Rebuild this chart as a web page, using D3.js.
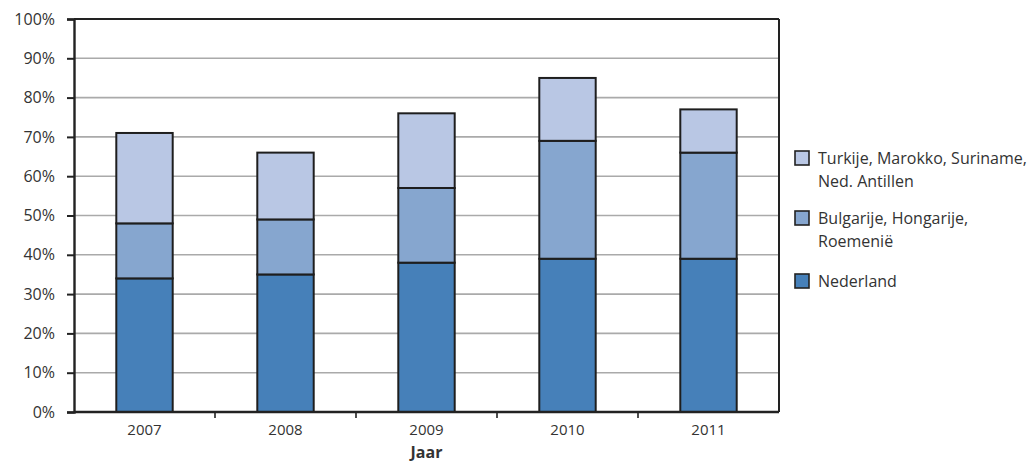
<!DOCTYPE html>
<html>
<head>
<meta charset="utf-8">
<script src="https://cdn.jsdelivr.net/npm/d3@7"></script>
<style>
  body { margin: 0; background: #fff; }
  text { font-family: "Open Sans", "Noto Sans", sans-serif; fill: #333; }
</style>
</head>
<body>
<svg id="chart" width="1029" height="463"></svg>
<script>
// data (share in %)
var years = ["2007", "2008", "2009", "2010", "2011"]
var nederland = [34, 35, 38, 39, 39]
var bulgarije = [14, 14, 19, 30, 27]
var turkije = [23, 17, 19, 16, 11]
var yTicks = [0, 10, 20, 30, 40, 50, 60, 70, 80, 90, 100]
var colors = ["#4680b9", "#86a6cf", "#b9c7e4"]

var svg = d3.select("#chart")
// note: "top" clashes with window.top, so plot edges get own names
var plotL = 74, plotR = 779, plotT = 19, plotB = 412

var x = d3.scaleBand().domain(years).range([plotL, plotR]).paddingInner(0.6).paddingOuter(0.3)
var xb = d3.scaleBand().domain(years).range([plotL, plotR])
var y = d3.scaleLinear().domain([0, 100]).range([plotB, plotT])

// gridlines
svg.selectAll(".grid").data(yTicks.slice(1, -1)).enter().append("line")
  .attr("x1", plotL).attr("x2", plotR)
  .attr("y1", d => y(d)).attr("y2", d => y(d))
  .attr("stroke", "#aaa").attr("stroke-width", 1.6)

// stacked bars
var rows = years.map((yr, i) => ({year: yr, nl: nederland[i], bg: bulgarije[i], tk: turkije[i]}))
var stack = d3.stack().keys(["nl", "bg", "tk"])(rows)

stack.forEach(function(layer, li) {
  svg.selectAll(".bar" + li).data(layer).enter().append("rect")
    .attr("x", d => x(d.data.year))
    .attr("width", x.bandwidth())
    .attr("y", d => y(d[1]))
    .attr("height", d => y(d[0]) - y(d[1]))
    .attr("fill", colors[li])
    .attr("stroke", "#1e1e1e").attr("stroke-width", 2)
})

// frame: top and right border
svg.append("line").attr("x1", plotL).attr("x2", plotR).attr("y1", y(100)).attr("y2", y(100))
  .attr("stroke", "#222").attr("stroke-width", 2)
svg.append("line").attr("x1", plotR).attr("x2", plotR).attr("y1", y(100)).attr("y2", plotB)
  .attr("stroke", "#222").attr("stroke-width", 2)

// y axis
var yAxis = svg.append("g").attr("transform", "translate(" + plotL + ",0)")
  .call(d3.axisLeft(y).tickValues(yTicks).tickFormat(d => d + "%").tickSize(7).tickPadding(12))
yAxis.select(".domain").attr("stroke", "#222").attr("stroke-width", 2.4)
yAxis.selectAll(".tick line").attr("stroke", "#222").attr("stroke-width", 2)
yAxis.selectAll(".tick text").style("font-size", "16px").attr("fill", "#333")

// x axis
var xAxis = svg.append("g").attr("transform", "translate(0," + plotB + ")")
  .call(d3.axisBottom(x).tickSize(0).tickPadding(12))
xAxis.select(".domain").remove()
xAxis.selectAll(".tick text").style("font-size", "15px").attr("fill", "#333")
svg.append("line").attr("x1", plotL).attr("x2", plotR).attr("y1", plotB).attr("y2", plotB)
  .attr("stroke", "#222").attr("stroke-width", 2.4)
svg.selectAll(".xtick").data(years.slice(1)).enter().append("line")
  .attr("x1", d => xb(d)).attr("x2", d => xb(d))
  .attr("y1", plotB).attr("y2", plotB + 6)
  .attr("stroke", "#222").attr("stroke-width", 1.6)

svg.append("text").attr("x", (plotL + plotR) / 2).attr("y", 458)
  .attr("text-anchor", "middle").style("font-size", "16px").style("font-weight", "bold")
  .text("Jaar")

// legend
var legend = [
  {lines: ["Turkije, Marokko, Suriname,", "Ned. Antillen"], c: colors[2], y: 158},
  {lines: ["Bulgarije, Hongarije,", "Roemenië"], c: colors[1], y: 218},
  {lines: ["Nederland"], c: colors[0], y: 281}
]
var lg = svg.selectAll(".lg").data(legend).enter().append("g")
lg.append("rect").attr("x", 795).attr("y", d => d.y - 7).attr("width", 14).attr("height", 14)
  .attr("fill", d => d.c).attr("stroke", "#222").attr("stroke-width", 1.6)
lg.each(function(d) {
  d3.select(this).selectAll("text").data(d.lines).enter().append("text")
    .attr("x", 818).attr("y", (t, i) => d.y + 6 + i * 23)
    .style("font-size", "16px")
    .text(t => t)
})
</script>
</body>
</html>
